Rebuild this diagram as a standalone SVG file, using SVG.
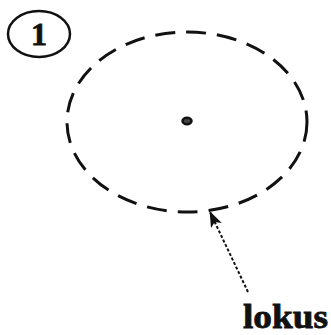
<svg xmlns="http://www.w3.org/2000/svg" width="331" height="335" viewBox="0 0 331 335">
<style>
.ln{fill:none;stroke:#111;stroke-width:3}
.lbl{font-family:"Liberation Serif",serif;font-weight:bold;fill:#111}
</style>
<defs>
<marker id="ah" markerWidth="16" markerHeight="12" refX="15" refY="6" orient="auto" markerUnits="userSpaceOnUse" viewBox="0 0 16 12">
<path d="M0,0 L16,6 L0,12 L4,6 Z" fill="#111"/>
</marker>
</defs>
<rect width="331" height="335" fill="#fff"/>
<g id="label1">
<ellipse cx="39" cy="34" rx="31" ry="23" fill="none" stroke="#111" stroke-width="2.5"/>
<text class="lbl" x="39" y="45" font-size="32" text-anchor="middle" stroke="#111" stroke-width="0.8">1</text>
</g>
<g id="locus">
<ellipse cx="187" cy="122" rx="120" ry="90" class="ln" stroke-dasharray="20 11"/>
<ellipse cx="187" cy="121" rx="4.5" ry="3.2" fill="#444" stroke="#111" stroke-width="2.5"/>
</g>
<g id="connectors">
<line x1="248" y1="292" x2="210" y2="212" stroke="#111" stroke-width="2" stroke-dasharray="3 2" marker-end="url(#ah)"/>
</g>
<g id="lokus">
<text class="lbl" x="243" y="328" font-size="34" textLength="85" lengthAdjust="spacingAndGlyphs" stroke="#111" stroke-width="0.8">lokus</text>
</g>
</svg>
